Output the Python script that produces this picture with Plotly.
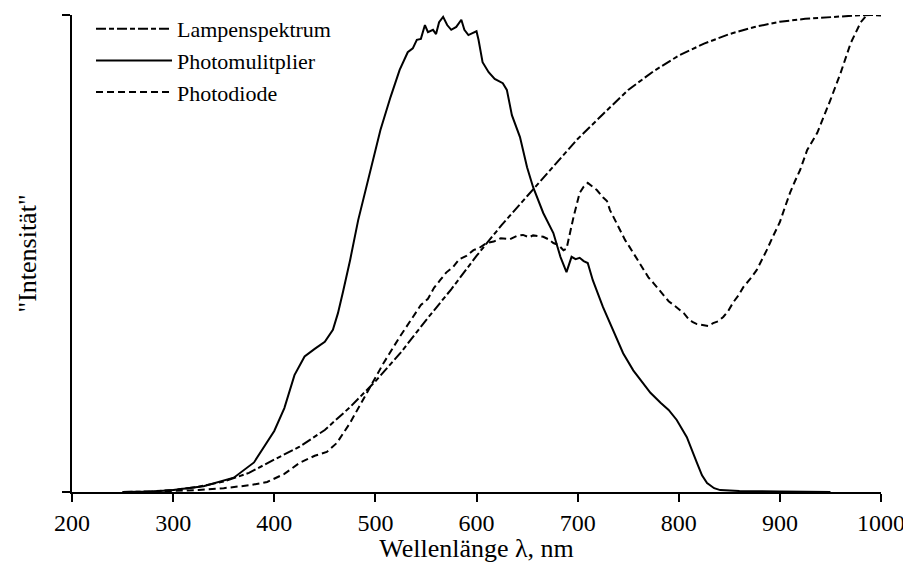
import plotly.graph_objects as go

# ---------------- data ----------------
lamp_nm = [250, 275, 300, 325, 350, 375, 400, 425, 450, 475, 500, 525, 550, 575, 600,
           625, 650, 675, 700, 725, 750, 775, 800, 825, 850, 875, 900, 925, 950, 975,
           990, 1000]
lamp_y = [0.000, 0.001, 0.004, 0.011, 0.022, 0.040, 0.068, 0.095, 0.130, 0.178, 0.232,
          0.292, 0.360, 0.425, 0.495, 0.560, 0.620, 0.680, 0.740, 0.792, 0.843, 0.882,
          0.915, 0.940, 0.960, 0.975, 0.986, 0.992, 0.996, 0.999, 1.000, 0.999]

pm_nm = [250, 280, 300, 330, 360, 380, 400, 410, 420, 430, 440, 450, 458, 463, 468,
         475, 483, 493, 505, 515, 524, 532, 537, 541, 545, 549, 552, 557, 560, 563,
         567, 571, 575, 580, 585, 588, 592, 596, 600, 602, 606, 612, 618, 626, 630,
         635, 643, 650, 656, 666, 676, 683, 689, 694, 698, 702, 706, 710, 715, 725,
         735, 745, 755, 762, 772, 782, 790, 798, 808, 818, 823, 828, 835, 841, 860,
         900, 950]
pm_y = [0.000, 0.001, 0.004, 0.012, 0.030, 0.062, 0.128, 0.176, 0.245, 0.284, 0.300,
        0.315, 0.340, 0.375, 0.420, 0.486, 0.570, 0.654, 0.759, 0.828, 0.885, 0.922,
        0.930, 0.948, 0.950, 0.979, 0.964, 0.969, 0.960, 0.985, 0.996, 0.979, 0.969,
        0.975, 0.990, 0.969, 0.958, 0.962, 0.966, 0.948, 0.901, 0.880, 0.866, 0.857,
        0.843, 0.790, 0.744, 0.681, 0.639, 0.585, 0.543, 0.493, 0.461, 0.493, 0.488,
        0.491, 0.484, 0.480, 0.444, 0.388, 0.340, 0.291, 0.255, 0.235, 0.208, 0.187,
        0.172, 0.151, 0.115, 0.061, 0.035, 0.019, 0.008, 0.004, 0.002, 0.001, 0.000]

pd_nm = [270, 300, 325, 350, 375, 393, 410, 425, 440, 452, 462, 475, 492, 508, 524,
         537, 545, 552, 558, 564, 570, 577, 583, 590, 597, 603, 610, 617, 624, 633,
         640, 646, 652, 656, 661, 666, 671, 676, 681, 686, 689, 692, 696, 702, 706,
         710, 714, 719, 725, 729, 732, 737, 742, 747, 751, 755, 760, 765, 770, 775,
         780, 785, 790, 795, 800, 805, 810, 814, 818, 824, 829, 834, 839, 844, 849,
         854, 859, 864, 870, 877, 882, 887, 893, 900, 905, 910, 915, 920, 927, 937,
         950, 960, 970, 980, 986]
pd_y = [0.000, 0.002, 0.004, 0.008, 0.014, 0.021, 0.038, 0.061, 0.076, 0.084, 0.103,
        0.145, 0.208, 0.270, 0.325, 0.367, 0.392, 0.405, 0.428, 0.444, 0.460, 0.472,
        0.488, 0.495, 0.507, 0.512, 0.522, 0.525, 0.532, 0.530, 0.537, 0.539, 0.534,
        0.538, 0.536, 0.535, 0.530, 0.522, 0.518, 0.507, 0.510, 0.540, 0.577, 0.627,
        0.640, 0.648, 0.642, 0.633, 0.618, 0.610, 0.591, 0.570, 0.550, 0.528, 0.515,
        0.501, 0.482, 0.465, 0.450, 0.438, 0.425, 0.413, 0.400, 0.392, 0.383, 0.375,
        0.362, 0.356, 0.352, 0.350, 0.348, 0.354, 0.358, 0.367, 0.380, 0.398, 0.412,
        0.430, 0.445, 0.465, 0.485, 0.507, 0.535, 0.566, 0.597, 0.627, 0.652, 0.675,
        0.717, 0.753, 0.822, 0.878, 0.941, 0.985, 1.000]

x_ticks = [200, 300, 400, 500, 600, 700, 800, 900, 1000]
names = ["Lampenspektrum", "Photomulitplier", "Photodiode"]

FONT = "Liberation Serif"

fig = go.Figure()
fig.add_trace(go.Scatter(x=lamp_nm, y=lamp_y, mode="lines", name=names[0],
                         line=dict(color="black", width=2, dash="10px,3px,5px,3px")))
fig.add_trace(go.Scatter(x=pm_nm, y=pm_y, mode="lines", name=names[1],
                         line=dict(color="black", width=2)))
fig.add_trace(go.Scatter(x=pd_nm, y=pd_y, mode="lines", name=names[2],
                         line=dict(color="black", width=2, dash="7px,4px")))

fig.update_layout(
    width=903, height=555,
    margin=dict(l=64, r=30, t=0, b=71),
    paper_bgcolor="white", plot_bgcolor="white",
    font=dict(family=FONT, color="black", size=24),
    showlegend=True,
    legend=dict(x=0.0235, y=1.0, xanchor="left", yanchor="top",
                bgcolor="rgba(0,0,0,0)", font=dict(family=FONT, size=22),
                itemwidth=76, tracegroupgap=0),
    xaxis=dict(range=[200, 1000], tickvals=x_ticks, ticks="outside", ticklen=8,
               tickwidth=2, tickcolor="black", showline=True, linecolor="black",
               linewidth=2, showgrid=False, zeroline=False, automargin=False,
               ticklabeloverflow="allow",
               title=dict(text="Wellenlänge λ, nm", font=dict(family=FONT, size=26),
                          standoff=11),
               tickfont=dict(family=FONT, size=24)),
    yaxis=dict(range=[0, 1], domain=[0, 0.9855], tickvals=[0, 1], ticks="outside",
               ticklen=8, tickwidth=2, tickcolor="black", showticklabels=False,
               showline=True, linecolor="black", linewidth=2, showgrid=False,
               zeroline=False, automargin=False,
               title=dict(text="\"Intensität\"", font=dict(family=FONT, size=26),
                          standoff=18)),
)

fig.write_html("out.html")
